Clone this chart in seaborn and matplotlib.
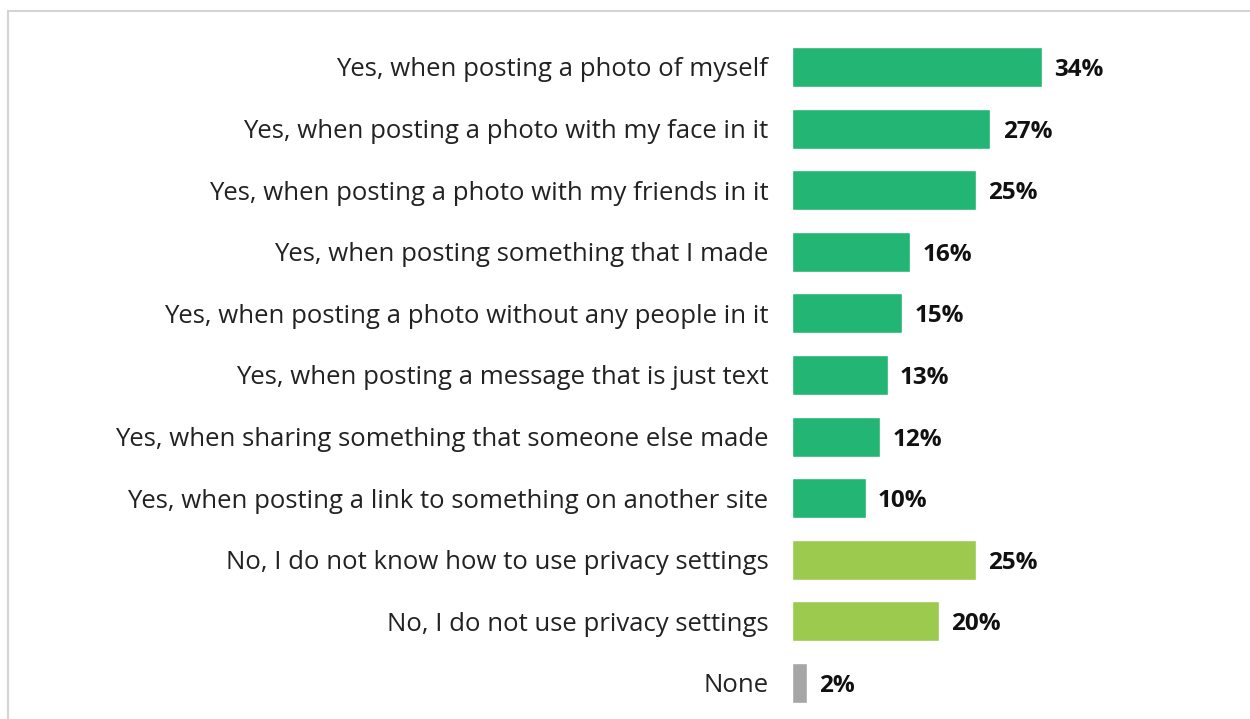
import matplotlib
matplotlib.use("Agg")
import matplotlib.pyplot as plt
from matplotlib.lines import Line2D
import seaborn as sns
import pandas as pd

categories = [
    "Yes, when posting a photo of myself",
    "Yes, when posting a photo with my face in it",
    "Yes, when posting a photo with my friends in it",
    "Yes, when posting something that I made",
    "Yes, when posting a photo without any people in it",
    "Yes, when posting a message that is just text",
    "Yes, when sharing something that someone else made",
    "Yes, when posting a link to something on another site",
    "No, I do not know how to use privacy settings",
    "No, I do not use privacy settings",
    "None",
]
values = [34, 27, 25, 16, 15, 13, 12, 10, 25, 20, 2]
groups = ["yes"] * 8 + ["no"] * 2 + ["none"]
palette = {"yes": "#22B573", "no": "#9BCA4F", "none": "#A6A6A6"}

df = pd.DataFrame({"label": categories, "value": values, "group": groups})

sns.set_theme(style="white")
plt.rcParams["font.family"] = ["Open Sans", "DejaVu Sans"]

fig = plt.figure(figsize=(12.5, 7.19), dpi=100)
ax = fig.add_axes([792 / 1250, 1 - 713.8 / 719, 1 - 792 / 1250, (713.8 - 36.2) / 719])

sns.barplot(data=df, y="label", x="value", hue="group", palette=palette,
            orient="h", width=0.65, dodge=False, legend=False, ax=ax,
            saturation=1)

for cont in ax.containers:
    texts = ax.bar_label(cont, labels=[f"{int(v)}%" for v in cont.datavalues],
                         padding=9, fontsize=17.5, fontweight="bold",
                         color="#111111")
    for t in texts:
        t.set_verticalalignment("center_baseline")

ax.set_xlim(0, 458 / 7.35)
ax.set_ylim(10.5, -0.5)
ax.set_xlabel("")
ax.set_ylabel("")
ax.set_xticks([])
ax.tick_params(axis="y", length=0, pad=17, labelsize=18.5, labelcolor="#222222")
for s in ax.spines.values():
    s.set_visible(False)

# light frame along the top and left edges
fig.add_artist(Line2D([8 / 1250, 1], [1 - 11 / 719, 1 - 11 / 719],
                      transform=fig.transFigure, color="#d4d4d4", lw=1.5))
fig.add_artist(Line2D([8 / 1250, 8 / 1250], [0, 1 - 11 / 719],
                      transform=fig.transFigure, color="#d4d4d4", lw=1.5))

fig.savefig("out.png", dpi=100, facecolor="white")
